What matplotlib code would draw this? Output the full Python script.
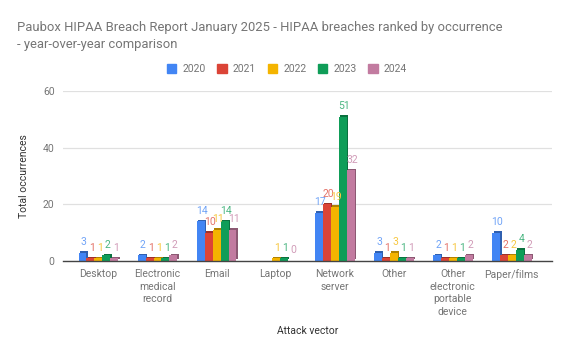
import numpy as np
import matplotlib
matplotlib.use("Agg")
import matplotlib.pyplot as plt
import matplotlib.transforms as mtransforms
from matplotlib.patches import Patch
import matplotlib.colors as mcolors

plt.rcParams['font.family'] = ['Roboto', 'DejaVu Sans']

categories = ["Desktop", "Electronic\nmedical\nrecord", "Email", "Laptop", "Network\nserver",
              "Other", "Other\nelectronic\nportable\ndevice", "Paper/films"]
years = ["2020", "2021", "2022", "2023", "2024"]
v2020 = [3, 2, 14, np.nan, 17, 3, 2, 10]
v2021 = [1, 1, 10, np.nan, 20, 1, 1, 2]
v2022 = [1, 1, 11, 1, 19, 3, 1, 2]
v2023 = [2, 1, 14, 1, 51, 1, 1, 4]
v2024 = [1, 2, 11, 0, 32, 1, 2, 2]
series = [v2020, v2021, v2022, v2023, v2024]
colors = ["#4285F4", "#DB4437", "#F4B400", "#0F9D58", "#C27BA0"]

fig = plt.figure(figsize=(5.7, 3.52), dpi=100)
ax = fig.add_axes([63/570, (352-261)/352, (552-63)/570, (261-91)/352])

x = np.arange(len(categories))
w = 0.135
side = mtransforms.ScaledTranslation(1.2/72, 1.2/72, fig.dpi_scale_trans)
for i, (vals, c) in enumerate(zip(series, colors)):
    off = (i - 2) * w
    vals = np.array(vals, dtype=float)
    dark = tuple(np.array(mcolors.to_rgb(c)) * 0.72)
    ax.bar(x + off, vals, w, color=dark, transform=ax.transData + side, zorder=2 + i * 0.1)
    ax.bar(x + off, vals, w, color=c, zorder=2.05 + i * 0.1)
    light = tuple(np.array(mcolors.to_rgb(c)) * 0.75 + 0.25)
    for xi, v in zip(x, vals):
        if np.isnan(v):
            continue
        ax.annotate(f"{int(v)}", (xi + off, v), xytext=(1, 4), textcoords="offset points",
                    ha="center", va="bottom", fontsize=7.5, color=light, zorder=5)

ax.set_xlim(-0.6, 7.68)
ax.set_ylim(0, 60)
ax.set_yticks([0, 20, 40, 60])
ax.yaxis.grid(True, color="#e0e0e0", linewidth=0.9)
ax.set_axisbelow(True)
for s in ["top", "right", "left"]:
    ax.spines[s].set_visible(False)
ax.spines["bottom"].set_color("#444444")
ax.spines["bottom"].set_linewidth(1.0)
ax.spines["bottom"].set_zorder(6)
ax.tick_params(axis="both", length=0, labelsize=7.5, labelcolor="#757575")
ax.tick_params(axis="y", pad=6)
ax.tick_params(axis="x", pad=6)
ax.set_xticks(x)
ax.set_xticklabels(categories, linespacing=1.3)
ax.set_xlabel("Attack vector", fontsize=7.5, color="#333333", labelpad=7)
ax.set_ylabel("Total occurrences", fontsize=7.5, color="#333333", labelpad=10)

fig.text(17/570, 1 - 36/352, "Paubox HIPAA Breach Report January 2025 - HIPAA breaches ranked by occurrence\n- year-over-year comparison",
         fontsize=9.4, color="#757575", ha="left", va="center", linespacing=1.35)

handles = [Patch(facecolor=c, edgecolor=c) for c in colors]
fig.legend(handles, years, loc="center", bbox_to_anchor=(287/570, 1 - 69/352), ncol=5,
           frameon=False, fontsize=7.5, labelcolor="#757575", handlelength=0.9, handleheight=0.9,
           handletextpad=0.6, columnspacing=1.1)

fig.savefig("out.png", dpi=100)
